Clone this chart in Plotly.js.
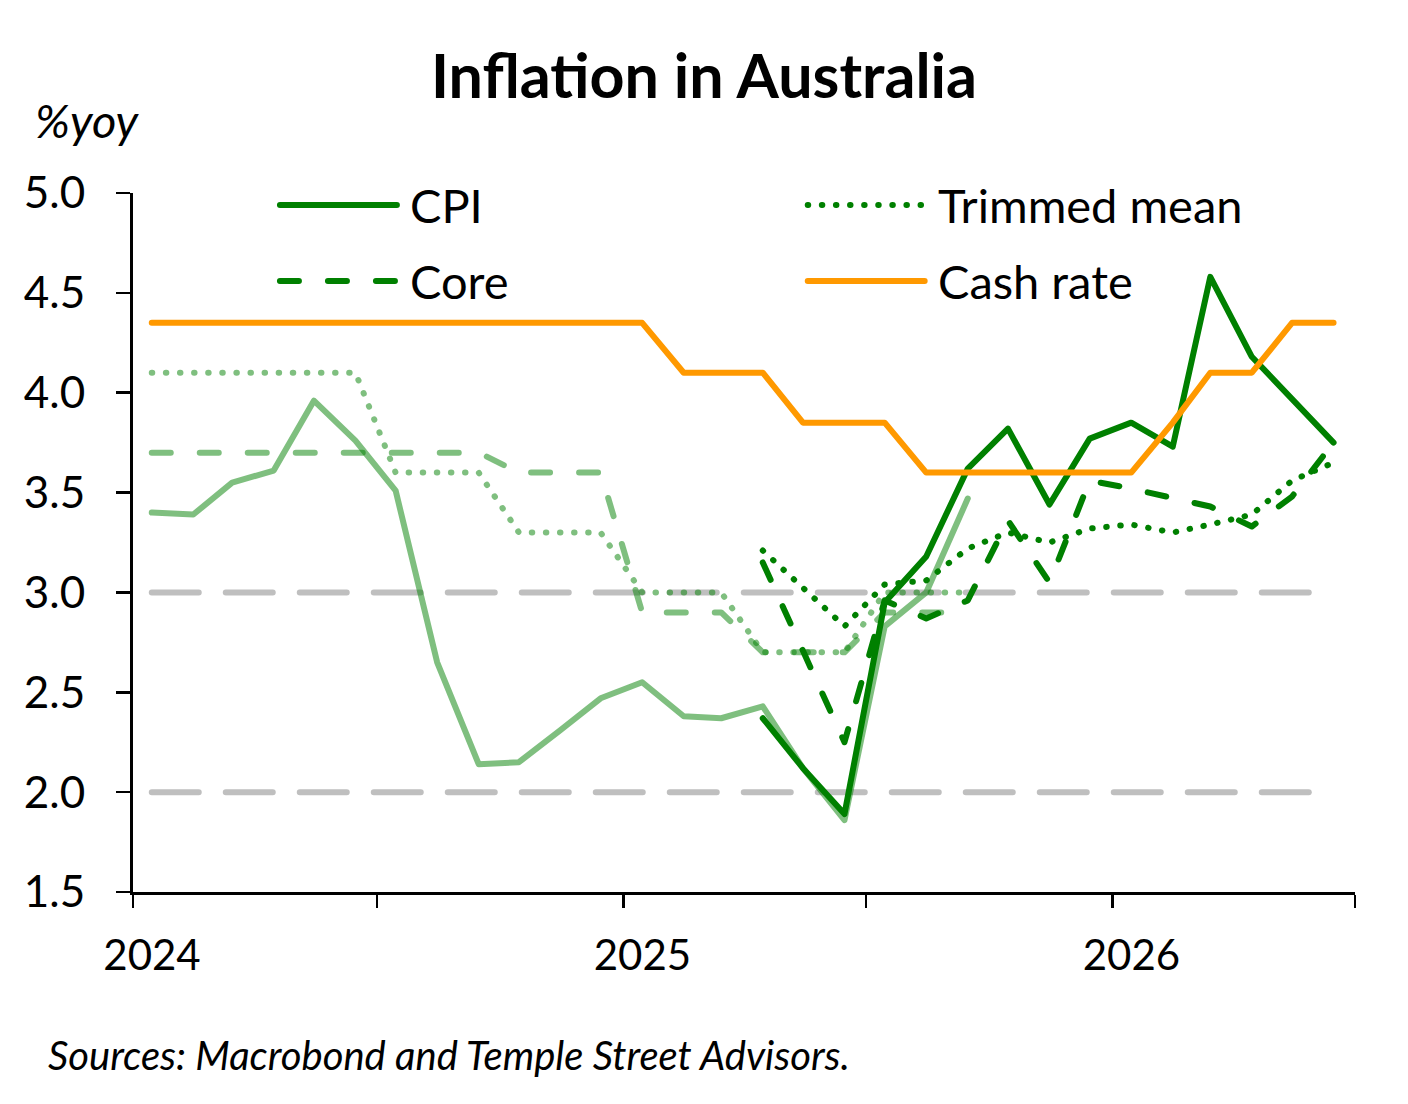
<!DOCTYPE html>
<html>
<head>
<meta charset="utf-8">
<script src="https://cdn.plot.ly/plotly-3.0.1.min.js"></script>
<style>
  html, body { margin: 0; padding: 0; background: #fff; }
  #chart { width: 1408px; height: 1104px; }
  /* Excel-style round caps and joins on every line */
  .scatterlayer path.js-line, .shapelayer path {
    stroke-linecap: round !important;
    stroke-linejoin: round !important;
  }
</style>
</head>
<body>
<div id="chart"></div>
<script>
// Monthly observations, mid-month dates
const months = [
  "2024-01-15", "2024-02-15", "2024-03-15", "2024-04-15", "2024-05-15", "2024-06-15",
  "2024-07-15", "2024-08-15", "2024-09-15", "2024-10-15", "2024-11-15", "2024-12-15",
  "2025-01-15", "2025-02-15", "2025-03-15", "2025-04-15", "2025-05-15", "2025-06-15",
  "2025-07-15", "2025-08-15", "2025-09-15", "2025-10-15", "2025-11-15", "2025-12-15",
  "2026-01-15", "2026-02-15", "2026-03-15", "2026-04-15", "2026-05-15", "2026-06-15",
];
const actualMonths = months.slice(0, 21);    // Jan 2024 – Sep 2025
const forecastMonths = months.slice(15);     // Apr 2025 – Jun 2026

// Actuals (light)
const cpiActual = [3.40, 3.39, 3.55, 3.61, 3.96, 3.76, 3.51, 2.65, 2.14, 2.15, 2.31,
  2.47, 2.55, 2.38, 2.37, 2.43, 2.12, 1.86, 2.83, 3.00, 3.47];
const coreActual = [3.7, 3.7, 3.7, 3.7, 3.7, 3.7, 3.7, 3.7, 3.7, 3.6, 3.6, 3.6,
  2.9, 2.9, 2.9, 2.7, 2.7, 2.7, 2.9, 2.9, 2.9];
const trimmedActual = [4.1, 4.1, 4.1, 4.1, 4.1, 4.1, 3.6, 3.6, 3.6, 3.3, 3.3, 3.3,
  3.0, 3.0, 3.0, 2.7, 2.7, 2.7, 3.0, 3.0, 3.0];

// Forecasts (dark)
const cpiForecast = [2.37, 2.12, 1.89, 2.95, 3.18, 3.62, 3.82, 3.44, 3.77, 3.85,
  3.73, 4.58, 4.18, 3.97, 3.75];
const coreForecast = [3.15, 2.70, 2.25, 2.96, 2.87, 2.96, 3.36, 3.05, 3.56, 3.52,
  3.47, 3.43, 3.33, 3.48, 3.75];
const trimmedForecast = [3.21, 3.02, 2.83, 3.04, 3.06, 3.22, 3.30, 3.25, 3.32, 3.34,
  3.30, 3.34, 3.39, 3.56, 3.65];

const cashRate = [4.35, 4.35, 4.35, 4.35, 4.35, 4.35, 4.35, 4.35, 4.35, 4.35, 4.35,
  4.35, 4.35, 4.10, 4.10, 4.10, 3.85, 3.85, 3.85, 3.60, 3.60, 3.60, 3.60, 3.60, 3.60,
  3.85, 4.10, 4.10, 4.35, 4.35];

// RBA target band edges
const bandLow = months.map(() => 2.0);
const bandHigh = months.map(() => 3.0);

const xTickVals = ["2024-01-01", "2024-07-01", "2025-01-01", "2025-07-01", "2026-01-01", "2026-07-01"];
const xTickText = ["2024", "", "2025", "", "2026", ""];

const GREEN = "#008000";
const LIGHT = "rgba(0,128,0,0.5)";
const ORANGE = "#ff9900";
const GREY = "#bfbfbf";
const FONT = "Lato, 'Open Sans', sans-serif";

const DASH = "19px,29px";
const DOT = "0.5px,13.6px";
const LW = 6;

const line = (x, y, color, dash) => ({
  x, y, type: "scatter", mode: "lines", hoverinfo: "skip",
  line: { color, width: LW, dash: dash || "solid" },
});

const traces = [
  line(months, bandLow, GREY, "47px,27px"),
  line(months, bandHigh, GREY, "47px,27px"),
  line(actualMonths, trimmedActual, LIGHT, DOT),
  line(actualMonths, coreActual, LIGHT, DASH),
  line(actualMonths, cpiActual, LIGHT),
  line(forecastMonths, trimmedForecast, GREEN, DOT),
  line(forecastMonths, coreForecast, GREEN, DASH),
  line(forecastMonths, cpiForecast, GREEN),
  line(months, cashRate, ORANGE),
];

// Plot box in pixels, used to place the hand-drawn legend and labels
const L = 133, R = 1355.5, T = 193, B = 892;
const px = (v) => (v - L) / (R - L);
const py = (v) => (B - v) / (B - T);

const legendItem = (x0, yPix, color, dash, label) => ({
  shape: {
    type: "line", xref: "paper", yref: "paper",
    x0: px(x0), x1: px(x0 + 117), y0: py(yPix), y1: py(yPix),
    line: { color, width: LW, dash },
  },
  note: {
    xref: "paper", yref: "paper", x: px(x0 + 128), y: py(yPix),
    xanchor: "left", yanchor: "middle", showarrow: false,
    text: label, font: { family: FONT, size: 47, color: "#000" },
  },
});

const legend = [
  legendItem(280, 205, GREEN, "solid", "CPI"),
  legendItem(280, 281, GREEN, DASH, "Core"),
  legendItem(808, 205, GREEN, DOT, "Trimmed mean"),
  legendItem(808, 281, ORANGE, "solid", "Cash rate"),
];

const layout = {
  width: 1408, height: 1104,
  paper_bgcolor: "#fff", plot_bgcolor: "#fff",
  margin: { l: L, r: 1408 - R, t: T, b: 1104 - B, pad: 0 },
  showlegend: false,
  font: { family: FONT, color: "#000", size: 42 },
  title: {
    text: "<b>Inflation in Australia</b>",
    font: { family: FONT, size: 61, color: "#000" },
    x: 0.5, xref: "container", xanchor: "center",
    y: 1 - 77 / 1104, yref: "container", yanchor: "middle",
  },
  xaxis: {
    type: "date",
    range: ["2024-01-01", "2026-07-01"],
    tickmode: "array", tickvals: xTickVals, ticktext: xTickText,
    ticks: "outside", ticklen: 13, tickwidth: 2.5, tickcolor: "#000",
    ticklabelshift: 19, ticklabelstandoff: 12,
    showline: true, linecolor: "#000", linewidth: 3,
    showgrid: false, zeroline: false,
    tickfont: { family: FONT, size: 42, color: "#000" },
  },
  yaxis: {
    range: [1.5, 5.0], dtick: 0.5, tick0: 1.5, tickformat: ".1f",
    ticks: "outside", ticklen: 14, tickwidth: 2.5, tickcolor: "#000",
    ticklabelstandoff: 22,
    showline: true, linecolor: "#000", linewidth: 3,
    showgrid: false, zeroline: false,
    tickfont: { family: FONT, size: 44, color: "#000" },
  },
  shapes: legend.map((d) => d.shape),
  annotations: [
    ...legend.map((d) => d.note),
    {
      xref: "paper", yref: "paper", x: px(33), y: py(120),
      xanchor: "left", yanchor: "middle", showarrow: false,
      text: "<i>%yoy</i>", font: { family: FONT, size: 47, color: "#000" },
    },
    {
      xref: "paper", yref: "paper", x: px(46), y: py(1055),
      xanchor: "left", yanchor: "middle", showarrow: false,
      text: "<i>Sources: Macrobond and Temple Street Advisors.</i>",
      font: { family: FONT, size: 40, color: "#000" },
    },
  ],
};

Plotly.newPlot("chart", traces, layout, { displayModeBar: false, staticPlot: true });
</script>
</body>
</html>
